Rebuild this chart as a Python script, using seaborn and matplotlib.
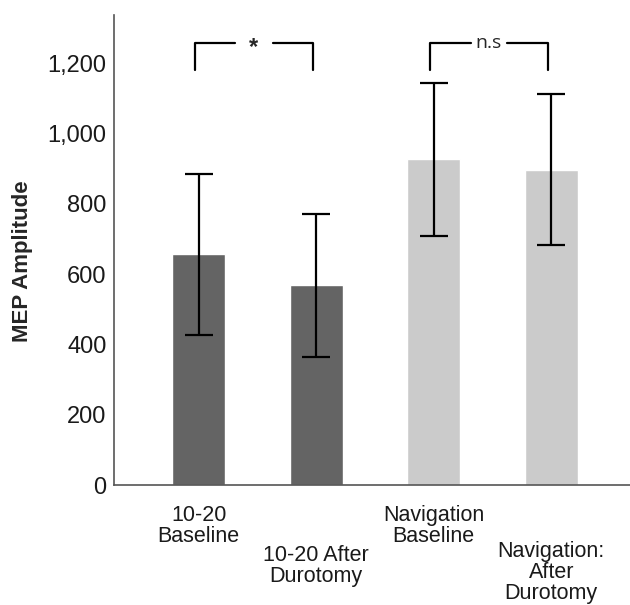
import matplotlib
matplotlib.use("Agg")
import matplotlib.pyplot as plt
from matplotlib.ticker import FuncFormatter
import seaborn as sns
import pandas as pd

# ------------------------------
CONDITIONS = ["10-20\nBaseline", "10-20 After\nDurotomy",
              "Navigation\nBaseline", "Navigation:\nAfter\nDurotomy"]
MEANS = [657, 569, 927, 896]
ERR_LOW = [427, 364, 708, 683]
ERR_HIGH = [885, 771, 1144, 1112]
GROUPS = ["10-20", "10-20", "Navigation", "Navigation"]
LABEL_PADS = [14, 43, 14, 40]

BRACKETS = [(0, 1, "*"), (2, 3, "n.s")]
BRACKET_TOP = 1257
BRACKET_LEG = 1181

DARK = "#646464"
LIGHT = "#cbcbcb"
AXIS = "#555555"

sns.set_style("white")
plt.rcParams["font.family"] = ["Liberation Sans", "DejaVu Sans"]

df = pd.DataFrame({"Condition": CONDITIONS, "MEP": MEANS, "Group": GROUPS})

DPI = 100
fig = plt.figure(figsize=(630 / DPI, 605 / DPI), dpi=DPI)
ax = fig.add_axes([0.181, 0.198, 0.819, 0.777])

sns.barplot(data=df, x="Condition", y="MEP", hue="Group",
            palette={"10-20": DARK, "Navigation": LIGHT},
            width=0.45, dodge=False, legend=False, ax=ax, saturation=1)

xs = range(len(CONDITIONS))
yerr = [[m - lo for m, lo in zip(MEANS, ERR_LOW)],
        [hi - m for m, hi in zip(MEANS, ERR_HIGH)]]
ax.errorbar(xs, MEANS, yerr=yerr, fmt="none", ecolor="black",
            elinewidth=1.6, capsize=10, capthick=1.6, zorder=3)

# significance brackets
for a, b, txt in BRACKETS:
    xa, xb = a - 0.03, b - 0.03
    mid = (xa + xb) / 2
    gap = 0.16 if txt == "*" else 0.15
    ax.plot([xa, xa, mid - gap], [BRACKET_LEG, BRACKET_TOP, BRACKET_TOP],
            color="black", lw=1.6, clip_on=False)
    ax.plot([mid + gap, xb, xb], [BRACKET_TOP, BRACKET_TOP, BRACKET_LEG],
            color="black", lw=1.6, clip_on=False)
    if txt == "*":
        ax.text(mid, BRACKET_TOP - 12, txt, ha="center", va="center",
                fontsize=17, fontweight="bold")
    else:
        ax.text(mid, BRACKET_TOP, txt, ha="center", va="center",
                fontsize=14, family=["Open Sans", "DejaVu Sans"])

ax.set_xlim(-0.72, 3.67)
ax.set_ylim(0, 1337)
ax.set_yticks([0, 200, 400, 600, 800, 1000, 1200])
ax.yaxis.set_major_formatter(FuncFormatter(lambda v, p: f"{int(v):,}"))
ax.tick_params(axis="y", length=0, pad=5.5, labelsize=17, labelcolor="#1a1a1a")
ax.tick_params(axis="x", length=0, labelsize=15.5, labelcolor="#1a1a1a")
for lab in ax.get_xticklabels():
    lab.set_linespacing(1.0)

ax.set_xlabel("")
ax.set_ylabel("MEP Amplitude", fontsize=16, fontweight="bold")
ax.yaxis.set_label_coords(-0.157, 0.477)

for tick, pad in zip(ax.xaxis.get_major_ticks(), LABEL_PADS):
    tick.set_pad(pad)

sns.despine(ax=ax)
for side in ["left", "bottom"]:
    ax.spines[side].set_color(AXIS)
    ax.spines[side].set_linewidth(1.2)

fig.savefig("out.png", dpi=DPI)
